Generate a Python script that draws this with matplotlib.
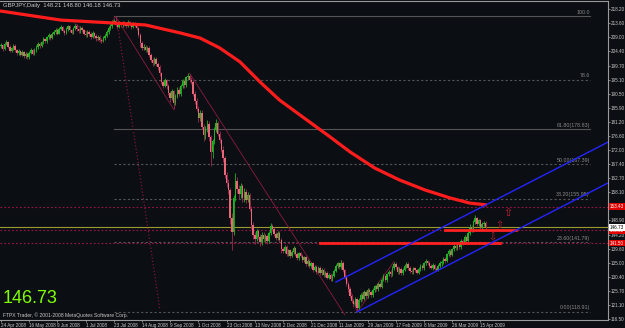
import matplotlib
matplotlib.use("Agg")
import matplotlib.pyplot as plt
import matplotlib.transforms as mtransforms

plt.rcParams["font.family"] = ["Liberation Sans", "DejaVu Sans"]

BG = "#0b0f13"
FG = "#c8c8c8"

# daily candles GBPJPY (open of a bar = close of the one before)
first_open = 206.0
closes = [
    206.4, 205.1, 206.8, 207.5, 205.9, 204.6, 205.3, 206.2, 204.8, 203.9,
    204.5, 203.2, 204.1, 202.8, 203.6, 202.4, 203.9, 204.7, 203.5, 204.9,
    205.8, 206.9, 206.1, 207.4, 208.3, 207.6, 208.9, 209.7, 208.8, 210.1,
    210.6, 211.4, 210.2, 211.8, 212.3, 211.1, 210.4, 211.6, 212.5, 211.2,
    210.5, 211.9, 212.8, 211.6, 210.9, 212.1, 211.3, 210.2, 209.8, 210.7,
    210.0, 209.1, 210.3, 209.4, 208.6, 209.2, 208.1, 207.9, 208.7, 209.5,
    210.8, 211.9, 212.6, 213.8, 214.2, 213.1, 212.4, 213.6, 212.9, 213.8,
    213.2, 212.6, 213.9, 213.1, 212.3, 213.4, 212.8, 211.9, 209.6, 207.2,
    205.4, 205.9, 204.8, 205.6, 203.2, 201.6, 200.4, 201.8, 200.1, 199.2,
    197.1, 194.2, 193.1, 194.8, 192.9, 190.6, 188.9, 191.2, 187.4, 189.6,
    191.8, 190.3, 192.9, 194.6, 193.2, 195.8, 196.3, 195.1, 194.2, 190.4,
    188.1, 185.6, 182.4, 184.2, 179.6, 176.8, 178.9, 180.6, 176.2, 171.3,
    174.8, 178.6, 180.9, 177.4, 175.2, 172.1, 169.3, 163.8, 161.2, 158.9,
    149.6, 145.2, 156.4, 161.8, 159.2, 157.6, 160.1, 156.3, 158.4, 155.7,
    157.2, 152.8, 147.4, 144.1, 142.9, 145.3, 143.6, 141.8, 144.2, 142.7,
    143.9, 142.1, 144.8, 147.2, 146.1, 144.6, 143.2, 144.9, 142.4, 139.6,
    138.9, 140.2, 137.8, 139.1, 137.2, 138.6, 139.8, 137.9, 136.6, 138.1,
    137.4, 135.9, 136.8, 134.6, 135.7, 133.9, 134.8, 132.7, 133.8, 132.1,
    133.4, 131.6, 132.8, 130.9, 131.7, 130.2, 131.1, 129.6, 130.8, 132.4,
    133.9, 134.8, 133.5, 135.1, 132.6, 130.4, 128.1, 126.3, 124.2, 122.6,
    121.4, 123.1, 120.2, 122.8, 124.6, 123.2, 125.4, 124.1, 126.2, 125.3,
    124.4, 126.1, 127.3, 126.4, 128.1, 127.2, 129.4, 130.6, 129.3, 131.2,
    132.1, 131.2, 133.4, 134.6, 133.5, 132.0, 133.1, 131.6, 132.8, 134.0,
    134.7, 133.3, 132.4, 131.9, 133.2, 132.5, 131.8, 132.9, 134.1, 133.2,
    134.8, 135.6, 134.9, 134.0, 133.4, 134.2, 133.1, 132.8, 133.9, 134.9,
    135.1, 136.4, 135.6, 137.8, 138.9, 137.6, 139.4, 140.6, 139.8, 141.2,
    140.1, 142.3, 141.6, 143.4, 142.2, 144.8, 146.9, 145.6, 148.4, 149.6,
    147.8, 148.9, 146.4, 147.6, 148.21, 146.73,
]
highs = [
    207.1, 206.9, 207.3, 208.2, 207.9, 206.3, 205.9, 206.8, 206.6, 205.2,
    205.1, 204.9, 204.7, 204.6, 204.2, 204.0, 204.4, 205.3, 205.2, 205.5,
    206.4, 207.5, 207.4, 207.9, 208.9, 208.8, 209.5, 210.3, 210.2, 210.7,
    211.3, 212.0, 211.9, 212.4, 213.0, 212.8, 211.7, 212.2, 213.1, 213.0,
    211.8, 212.4, 213.4, 213.2, 212.1, 212.7, 212.6, 211.8, 210.9, 211.3,
    211.2, 210.6, 210.9, 210.8, 209.9, 209.8, 209.7, 208.8, 209.3, 210.1,
    211.4, 212.5, 213.2, 214.5, 215.1, 215.8, 213.9, 214.2, 214.1, 214.4,
    214.3, 213.8, 214.5, 214.3, 213.6, 214.0, 213.9, 213.2, 212.4, 210.3,
    207.9, 206.6, 206.5, 206.2, 206.0, 203.9, 202.3, 202.5, 202.4, 200.8,
    199.8, 197.6, 195.0, 195.6, 195.4, 193.5, 191.4, 192.0, 191.8, 190.3,
    192.5, 192.6, 193.6, 195.3, 195.2, 196.4, 197.2, 197.0, 195.8, 195.0,
    191.2, 189.0, 186.4, 185.1, 185.0, 180.5, 179.8, 181.7, 181.4, 177.0,
    175.6, 179.4, 182.1, 181.6, 178.3, 176.0, 173.2, 170.1, 164.9, 162.4,
    159.7, 151.2, 157.3, 164.6, 163.1, 160.4, 161.3, 161.0, 159.6, 159.2,
    158.1, 157.9, 153.5, 148.3, 145.2, 146.2, 146.0, 144.5, 145.1, 145.0,
    144.6, 144.5, 145.4, 148.1, 147.9, 146.7, 145.2, 145.6, 145.3, 143.1,
    140.3, 140.9, 140.8, 139.7, 139.6, 139.2, 140.4, 140.3, 138.5, 138.7,
    138.6, 137.9, 137.3, 137.2, 136.2, 136.1, 135.4, 135.3, 134.4, 134.3,
    134.0, 133.9, 133.3, 133.2, 132.2, 132.3, 131.7, 131.6, 131.4, 133.0,
    134.5, 135.4, 135.3, 135.8, 135.5, 133.1, 130.9, 128.8, 127.0, 124.9,
    123.3, 123.8, 123.6, 123.4, 125.2, 125.3, 126.0, 126.1, 126.8, 126.9,
    125.9, 126.7, 127.9, 127.8, 128.7, 128.8, 130.0, 131.2, 131.1, 131.8,
    132.7, 132.8, 134.1, 135.4, 135.2, 134.1, 133.7, 133.6, 133.4, 134.6,
    135.3, 135.2, 133.9, 133.0, 133.8, 133.7, 133.1, 133.5, 134.7, 134.6,
    135.4, 136.2, 136.1, 135.5, 134.6, 134.8, 134.7, 133.8, 134.5, 135.5,
    135.8, 137.0, 136.9, 138.4, 139.6, 139.5, 140.0, 141.3, 141.2, 141.9,
    141.8, 142.9, 142.8, 144.1, 143.9, 145.5, 147.6, 147.5, 149.1, 150.7,
    150.2, 149.5, 149.3, 148.3, 148.7, 148.80,
]
lows = [
    205.4, 204.6, 204.8, 206.3, 205.4, 204.0, 204.1, 204.9, 204.3, 203.3,
    203.3, 202.7, 202.9, 202.2, 202.3, 201.8, 202.0, 203.4, 203.0, 203.1,
    204.3, 205.2, 205.6, 205.7, 206.9, 207.0, 207.2, 208.3, 208.2, 208.4,
    209.6, 210.1, 209.7, 209.9, 211.2, 210.6, 209.8, 210.0, 211.0, 210.7,
    209.9, 210.1, 211.4, 211.0, 210.3, 210.4, 210.8, 209.6, 209.1, 209.2,
    209.4, 208.5, 208.7, 208.9, 207.9, 208.0, 207.6, 207.2, 207.4, 208.2,
    209.1, 210.2, 211.3, 212.1, 213.2, 212.6, 211.8, 212.0, 212.3, 212.4,
    212.6, 212.0, 212.2, 212.5, 211.8, 211.9, 212.2, 211.3, 209.0, 205.9,
    204.8, 204.7, 204.1, 204.2, 202.6, 200.9, 199.7, 199.8, 199.5, 198.4,
    196.4, 193.6, 192.3, 192.5, 192.1, 189.9, 187.6, 188.3, 185.3, 186.8,
    189.0, 189.6, 189.7, 192.2, 192.4, 192.7, 195.1, 194.4, 193.5, 189.6,
    187.2, 184.7, 181.3, 181.6, 178.8, 174.9, 175.6, 177.9, 175.1, 166.6,
    169.4, 173.9, 177.8, 176.6, 174.3, 171.2, 168.0, 162.7, 159.8, 157.6,
    147.8, 139.3, 144.1, 155.2, 157.9, 155.9, 156.4, 155.1, 154.9, 154.6,
    154.9, 151.9, 146.2, 142.8, 141.2, 142.1, 142.8, 140.6, 141.0, 141.8,
    141.9, 141.3, 141.5, 144.2, 145.3, 143.8, 142.4, 142.6, 141.8, 138.1,
    138.1, 138.4, 137.1, 137.2, 136.6, 136.8, 138.0, 137.3, 135.9, 136.0,
    136.8, 135.3, 135.4, 134.0, 134.1, 133.2, 133.3, 132.1, 132.2, 131.5,
    131.6, 131.0, 131.1, 130.3, 130.4, 129.6, 129.8, 129.1, 129.2, 130.3,
    131.9, 133.3, 132.9, 133.0, 132.0, 129.7, 127.4, 125.6, 123.5, 121.8,
    120.6, 120.8, 118.9, 119.8, 122.3, 122.6, 122.8, 123.5, 123.6, 124.7,
    123.8, 123.9, 125.5, 125.8, 125.9, 126.6, 126.8, 128.9, 128.7, 128.8,
    130.6, 130.5, 130.7, 132.8, 132.9, 131.4, 131.5, 130.9, 131.0, 132.2,
    133.4, 132.7, 131.8, 131.2, 131.3, 131.9, 131.2, 131.3, 132.3, 132.6,
    132.6, 134.2, 134.3, 133.4, 132.9, 132.8, 132.6, 132.2, 132.3, 133.3,
    134.1, 134.5, 135.0, 135.2, 137.2, 137.0, 137.1, 138.8, 139.2, 139.3,
    139.5, 139.6, 141.0, 141.1, 141.6, 141.8, 144.2, 145.0, 145.1, 147.8,
    147.2, 147.1, 145.8, 145.9, 147.0, 146.18,
]

date_labels = ["24 Apr 2008", "16 May 2008", "9 Jun 2008", "1 Jul 2008", "23 Jul 2008",
               "14 Aug 2008", "9 Sep 2008", "1 Oct 2008", "23 Oct 2008", "13 Nov 2008",
               "2 Dec 2008", "21 Dec 2008", "11 Jan 2009", "29 Jan 2009", "17 Feb 2009",
               "8 Mar 2009", "26 Mar 2009", "15 Apr 2009"]
bars_per_label = 16

price_ticks = [116.50, 121.10, 125.70, 130.40, 135.00, 139.60, 144.20, 148.90, 153.50,
               158.10, 162.70, 167.40, 172.00, 176.60, 181.20, 185.90, 190.50, 195.10,
               199.70, 204.40, 209.00, 213.60, 218.20]

# moving average (thick red)
ma_bars = [-0.6, 34, 65, 82, 101.6, 113, 124, 135.6, 147, 158, 169.6, 186.7, 198,
           212, 226, 240.6, 254.7, 266, 275.7]
ma_values = [217.6, 214.6, 213.6, 213.0, 210.4, 208.7, 205.5, 200.9, 194.3, 188.4,
             183.5, 176.3, 171.4, 166.1, 162.2, 158.9, 156.3, 154.6, 154.0]

# fibonacci retracement 118.91 -> 215.87
fib_levels = [215.87, 195.12, 178.83, 167.39, 155.95, 141.79, 118.91]
fib_labels = ["100.0", "78.6", "61.80(178.83)", "50.00(167.39)", "38.20(155.95)",
              "23.60(141.79)", "0.00(118.91)"]
fib_span = (64, 334)

# horizontal levels with price tags
hline_prices = [153.43, 145.62, 141.50]
bid = 146.73

# red solid segments
seg_prices = [141.50, 145.62]
seg_spans = [(181, 283), (252, 292)]

# blue channel
channel_lower = [(202, 118.9), (344.4, 161.2)]
channel_upper = [(190, 128.7), (344.4, 174.6)]

# thin dark-red trend / zigzag lines
zig_a = [(42, 213.4), (57, 207.2), (65, 215.8), (98, 185.3)]
zig_b = [(193, 135.8), (202, 118.9), (223, 135.4)]
trend_sep = [(107, 197.2), (195, 118.0)]
dotted_fan = [(65.8, 214.6), (90.2, 119.5)]

fig = plt.figure(figsize=(6.25, 3.28), dpi=100, facecolor=BG)
ax = fig.add_axes([0, 8 / 328, 608 / 625, 319 / 328], facecolor=BG)
ax.set_xlim(-0.57, 344.4)
ax.set_ylim(116.27, 220.86)

# fib levels
for lvl, lab in zip(fib_levels, fib_labels):
    ls = "-" if lab in ("100.0", "61.80(178.83)") else (0, (2, 2))
    ax.plot(fib_span, [lvl, lvl], color="#555555", lw=0.8, ls=ls, zorder=1)
    ax.text(fib_span[1], lvl + 0.5, lab, color="#8a8a8a", fontsize=3.8,
            ha="right", va="bottom", zorder=1)

# horizontal dotted levels
for p in hline_prices:
    ax.axhline(p, color="#a0124a", lw=0.8, ls=(0, (1.5, 2)), zorder=1)
ax.axhline(bid, color="#9a9a30", lw=0.8, zorder=1)

# thin lines
for pts in (zig_a, zig_b, trend_sep):
    ax.plot([p[0] for p in pts], [p[1] for p in pts], color="#8c1a40", lw=0.6, zorder=2)
ax.plot([p[0] for p in dotted_fan], [p[1] for p in dotted_fan], color="#9a1448",
        lw=0.8, ls=(0, (1, 2)), zorder=2)

# candles
opens = [first_open] + closes[:-1]
idx = list(range(len(closes)))
body_col, wick_col, bottoms, heights = [], [], [], []
for o, c in zip(opens, closes):
    up = c >= o
    body_col.append("#22b422" if up else "#e86878")
    wick_col.append("#22b422" if up else "#a02a50")
    bottoms.append(min(o, c))
    heights.append(max(abs(c - o), 0.25))
ax.vlines(idx, lows, highs, colors=wick_col, lw=0.6, zorder=3)
ax.bar(idx, heights, bottom=bottoms, width=0.8, color=body_col, linewidth=0, zorder=4)

# moving average
ax.plot(ma_bars, ma_values, color="#ff1c1c", lw=2.3, zorder=5, solid_capstyle="butt")

# red segments
for p, (a, b) in zip(seg_prices, seg_spans):
    ax.plot([a, b], [p, p], color="#ff2020", lw=2.0, zorder=5)

# channel
for pts in (channel_lower, channel_upper):
    ax.plot([p[0] for p in pts], [p[1] for p in pts], color="#2424ff", lw=1.0, zorder=5)

# arrows
ax.text(287.7, 151.3, "\u21e7", color="#c81e32", fontsize=8, ha="center", va="center", zorder=6)
ax.text(283, 147.4, "\u21e7", color="#c81e32", fontsize=7, ha="center", va="center", zorder=6)
ax.text(278.6, 143.4, "\u21e9", color="#c81e32", fontsize=7, ha="center", va="center", zorder=6)

# axes styling
ax.spines["left"].set_visible(False)
for side in ("right", "bottom", "top"):
    ax.spines[side].set_color("#9a9a9a")
    ax.spines[side].set_linewidth(0.8)
ax.yaxis.tick_right()
ax.set_yticks(price_ticks)
# the 153.50 label sits under the red 153.43 tag
ax.set_yticklabels(["" if p == 153.50 else f"{p:.2f}" for p in price_ticks])
ax.set_xticks([i * bars_per_label for i in range(len(date_labels))])
ax.set_xticklabels(date_labels, ha="left")
ax.tick_params(axis="both", colors="#9a9a9a", labelcolor=FG, labelsize=3.3,
               length=1.5, width=0.6, pad=0.5)

# price tags on the scale
tr = mtransforms.blended_transform_factory(ax.transAxes, ax.transData)
for p in hline_prices:
    ax.text(1.003, p, f"{p:.2f}", transform=tr, fontsize=3.3, color="white",
            ha="left", va="center", zorder=10, clip_on=False,
            bbox=dict(boxstyle="square,pad=0.2", fc="#e00000", ec="none"))
ax.text(1.003, bid, f"{bid:.2f}", transform=tr, fontsize=3.3, color="black",
        ha="left", va="center", zorder=11, clip_on=False,
        bbox=dict(boxstyle="square,pad=0.2", fc="white", ec="none"))

# header and footer texts
ax.text(0.005, 0.995, "GBPJPY,Daily  148.21 148.80 146.18 146.73", transform=ax.transAxes,
        color=FG, fontsize=4.2, ha="left", va="top")
ax.text(0.005, 0.04, "146.73", transform=ax.transAxes, color="#7fff00",
        fontsize=13, ha="left", va="bottom")
ax.text(0.005, 0.006, "FTPX Trader, \u00a9 2001-2008 MetaQuotes Software Corp.",
        transform=ax.transAxes, color=FG, fontsize=3.6, ha="left", va="bottom")

fig.savefig("out.png", dpi=100, facecolor=BG)
